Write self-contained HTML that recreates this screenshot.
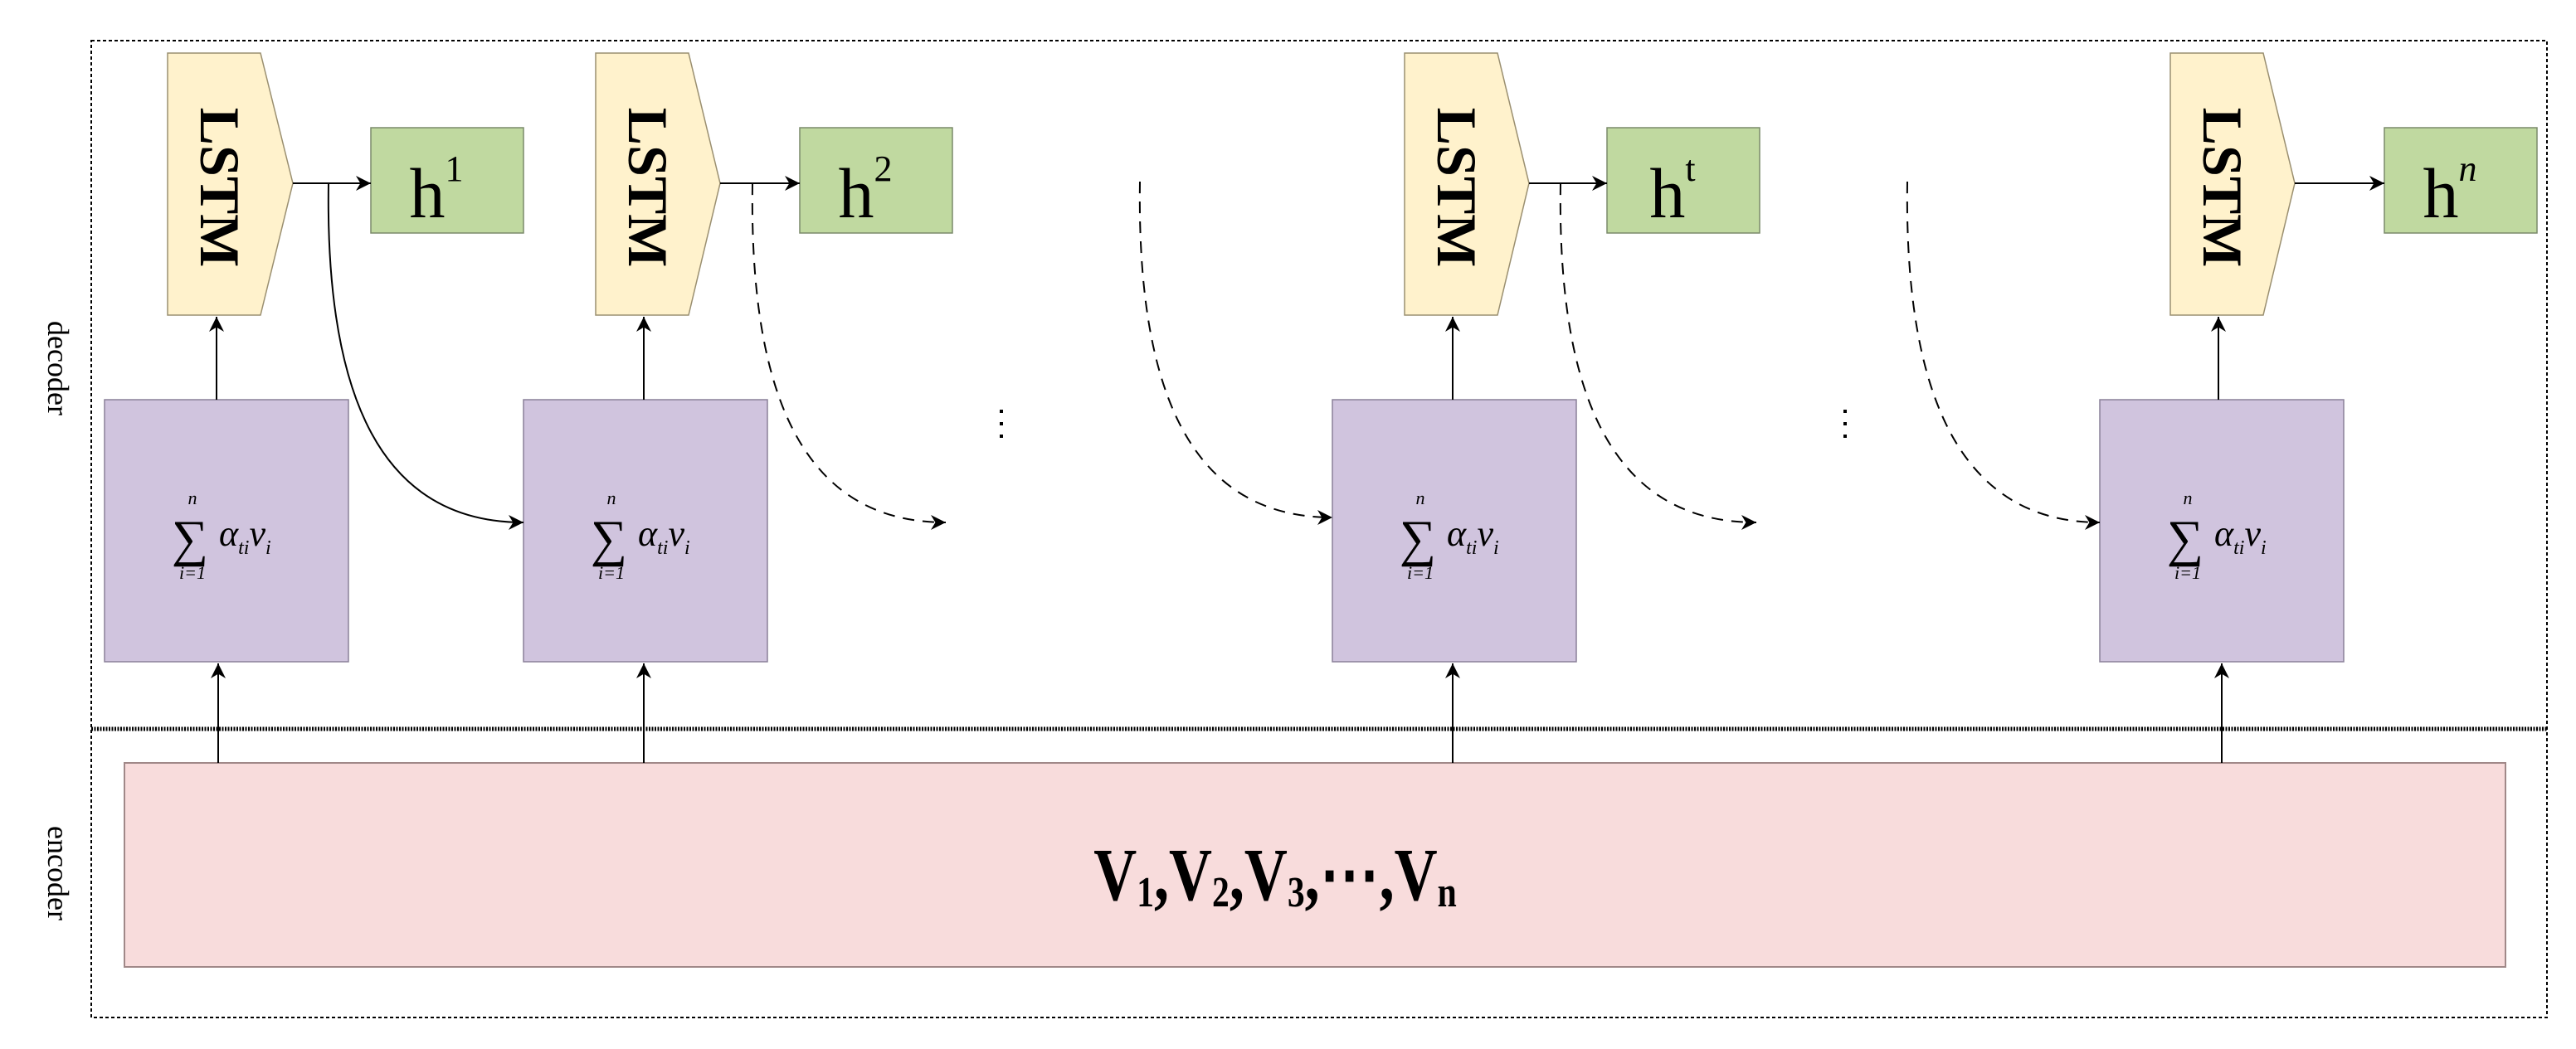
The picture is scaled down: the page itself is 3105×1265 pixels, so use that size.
<!DOCTYPE html>
<html><head><meta charset="utf-8"><style>
html,body{margin:0;padding:0;background:#fff;}
svg{display:block;}
text{font-family:"Liberation Serif",serif;}
</style></head><body>
<svg width="3105" height="1265" viewBox="0 0 3105 1265" xmlns="http://www.w3.org/2000/svg">
<defs>
<marker id="ar" viewBox="0 0 10 10" refX="10" refY="5" markerWidth="18" markerHeight="18" markerUnits="userSpaceOnUse" orient="auto">
<path d="M0,0 L10,5 L0,10 L3,5 z" fill="#000"/></marker>
</defs>
<!-- outer dotted frame -->
<rect x="110" y="49" width="2960" height="1178" fill="none" stroke="#000" stroke-width="2" stroke-dasharray="4,3"/>
<line x1="110" y1="879" x2="3070" y2="879" stroke="#000" stroke-width="5" stroke-dasharray="2,1.5"/>
<text x="0" y="0" font-size="36" transform="translate(58,444) rotate(90)" text-anchor="middle">decoder</text>
<text x="0" y="0" font-size="36" transform="translate(58,1053) rotate(90)" text-anchor="middle">encoder</text>

<!-- encoder box -->
<rect x="150" y="920" width="2870" height="246" fill="#f8dcdc" stroke="#a08888" stroke-width="2"/>
<text x="1537" y="1085" font-size="90" font-weight="bold" text-anchor="middle" transform="translate(1537,0) scale(0.8,1) translate(-1537,0)">V<tspan font-size="52" dy="8">1</tspan><tspan dy="-8">,V</tspan><tspan font-size="52" dy="8">2</tspan><tspan dy="-8">,V</tspan><tspan font-size="52" dy="8">3</tspan><tspan dy="-8">,⋯,V</tspan><tspan font-size="52" dy="8">n</tspan></text>

<g id="cols">
<!-- column 1 -->
<g>
<path d="M202,64 L314,64 L353,221 L314,380 L202,380 Z" fill="#fff2cc" stroke="#9a8f70" stroke-width="1.5"/>
<text transform="translate(242,226) rotate(90)" font-size="68" font-weight="bold" text-anchor="middle">LSTM</text>
<rect x="447" y="154" width="184" height="127" fill="#c0d9a0" stroke="#7a8a6a" stroke-width="1.5"/>
<text x="526" y="262" font-size="86" text-anchor="middle">h<tspan font-size="44" dy="-44">1</tspan></text>
<rect x="126" y="482" width="294" height="316" fill="#d0c4de" stroke="#8a8098" stroke-width="1.5"/>
</g>
<g>
<path d="M718,64 L830,64 L868,221 L830,380 L718,380 Z" fill="#fff2cc" stroke="#9a8f70" stroke-width="1.5"/>
<text transform="translate(758,226) rotate(90)" font-size="68" font-weight="bold" text-anchor="middle">LSTM</text>
<rect x="964" y="154" width="184" height="127" fill="#c0d9a0" stroke="#7a8a6a" stroke-width="1.5"/>
<text x="1043" y="262" font-size="86" text-anchor="middle">h<tspan font-size="44" dy="-44">2</tspan></text>
<rect x="631" y="482" width="294" height="316" fill="#d0c4de" stroke="#8a8098" stroke-width="1.5"/>
</g>
<g>
<path d="M1693,64 L1805,64 L1843,221 L1805,380 L1693,380 Z" fill="#fff2cc" stroke="#9a8f70" stroke-width="1.5"/>
<text transform="translate(1733,226) rotate(90)" font-size="68" font-weight="bold" text-anchor="middle">LSTM</text>
<rect x="1937" y="154" width="184" height="127" fill="#c0d9a0" stroke="#7a8a6a" stroke-width="1.5"/>
<text x="2016" y="262" font-size="86" text-anchor="middle">h<tspan font-size="44" dy="-44">t</tspan></text>
<rect x="1606" y="482" width="294" height="316" fill="#d0c4de" stroke="#8a8098" stroke-width="1.5"/>
</g>
<g>
<path d="M2616,64 L2728,64 L2766,221 L2728,380 L2616,380 Z" fill="#fff2cc" stroke="#9a8f70" stroke-width="1.5"/>
<text transform="translate(2656,226) rotate(90)" font-size="68" font-weight="bold" text-anchor="middle">LSTM</text>
<rect x="2874" y="154" width="184" height="127" fill="#c0d9a0" stroke="#7a8a6a" stroke-width="1.5"/>
<text x="2953" y="262" font-size="86" text-anchor="middle">h<tspan font-size="44" dy="-44" font-style="italic">n</tspan></text>
<rect x="2531" y="482" width="294" height="316" fill="#d0c4de" stroke="#8a8098" stroke-width="1.5"/>
</g>
</g>

<!-- formulas -->
<g font-style="italic">
<g transform="translate(126,0)">
<text x="103" y="670" font-size="62" font-style="normal" text-anchor="middle">∑</text>
<text x="106" y="608" font-size="22" text-anchor="middle">n</text>
<text x="106" y="698" font-size="22" text-anchor="middle">i=1</text>
<text x="138" y="658" font-size="44">α<tspan font-size="24" dy="10">ti</tspan><tspan dy="-10">v</tspan><tspan font-size="24" dy="10">i</tspan></text>
</g>
<g transform="translate(631,0)">
<text x="103" y="670" font-size="62" font-style="normal" text-anchor="middle">∑</text>
<text x="106" y="608" font-size="22" text-anchor="middle">n</text>
<text x="106" y="698" font-size="22" text-anchor="middle">i=1</text>
<text x="138" y="658" font-size="44">α<tspan font-size="24" dy="10">ti</tspan><tspan dy="-10">v</tspan><tspan font-size="24" dy="10">i</tspan></text>
</g>
<g transform="translate(1606,0)">
<text x="103" y="670" font-size="62" font-style="normal" text-anchor="middle">∑</text>
<text x="106" y="608" font-size="22" text-anchor="middle">n</text>
<text x="106" y="698" font-size="22" text-anchor="middle">i=1</text>
<text x="138" y="658" font-size="44">α<tspan font-size="24" dy="10">ti</tspan><tspan dy="-10">v</tspan><tspan font-size="24" dy="10">i</tspan></text>
</g>
<g transform="translate(2531,0)">
<text x="103" y="670" font-size="62" font-style="normal" text-anchor="middle">∑</text>
<text x="106" y="608" font-size="22" text-anchor="middle">n</text>
<text x="106" y="698" font-size="22" text-anchor="middle">i=1</text>
<text x="138" y="658" font-size="44">α<tspan font-size="24" dy="10">ti</tspan><tspan dy="-10">v</tspan><tspan font-size="24" dy="10">i</tspan></text>
</g>
</g>

<!-- arrows -->
<g stroke="#000" stroke-width="2" fill="none" marker-end="url(#ar)">
<line x1="353" y1="221" x2="447" y2="221"/>
<line x1="868" y1="221" x2="964" y2="221"/>
<line x1="1843" y1="221" x2="1937" y2="221"/>
<line x1="2766" y1="221" x2="2874" y2="221"/>
<line x1="261" y1="482" x2="261" y2="382"/>
<line x1="776" y1="482" x2="776" y2="382"/>
<line x1="1751" y1="482" x2="1751" y2="382"/>
<line x1="2674" y1="482" x2="2674" y2="382"/>
<line x1="263" y1="920" x2="263" y2="800"/>
<line x1="776" y1="920" x2="776" y2="800"/>
<line x1="1751" y1="920" x2="1751" y2="800"/>
<line x1="2678" y1="920" x2="2678" y2="800"/>
<path d="M396,221 C392,480 460,630 631,630"/>
</g>
<g stroke="#000" stroke-width="2" fill="none" stroke-dasharray="14,10" marker-end="url(#ar)">
<path d="M907,221 C903,480 970,630 1140,630"/>
<path d="M1374,219 C1370,480 1440,624 1606,624"/>
<path d="M1881,221 C1877,480 1945,630 2117,630"/>
<path d="M2299,219 C2295,480 2365,630 2531,630"/>
</g>
<g fill="#000">
<rect x="1205" y="494" width="4" height="4"/><rect x="1205" y="509" width="4" height="4"/><rect x="1205" y="524" width="4" height="4"/>
<rect x="2222" y="494" width="4" height="4"/><rect x="2222" y="509" width="4" height="4"/><rect x="2222" y="524" width="4" height="4"/>
</g>
</svg>
</body></html>
